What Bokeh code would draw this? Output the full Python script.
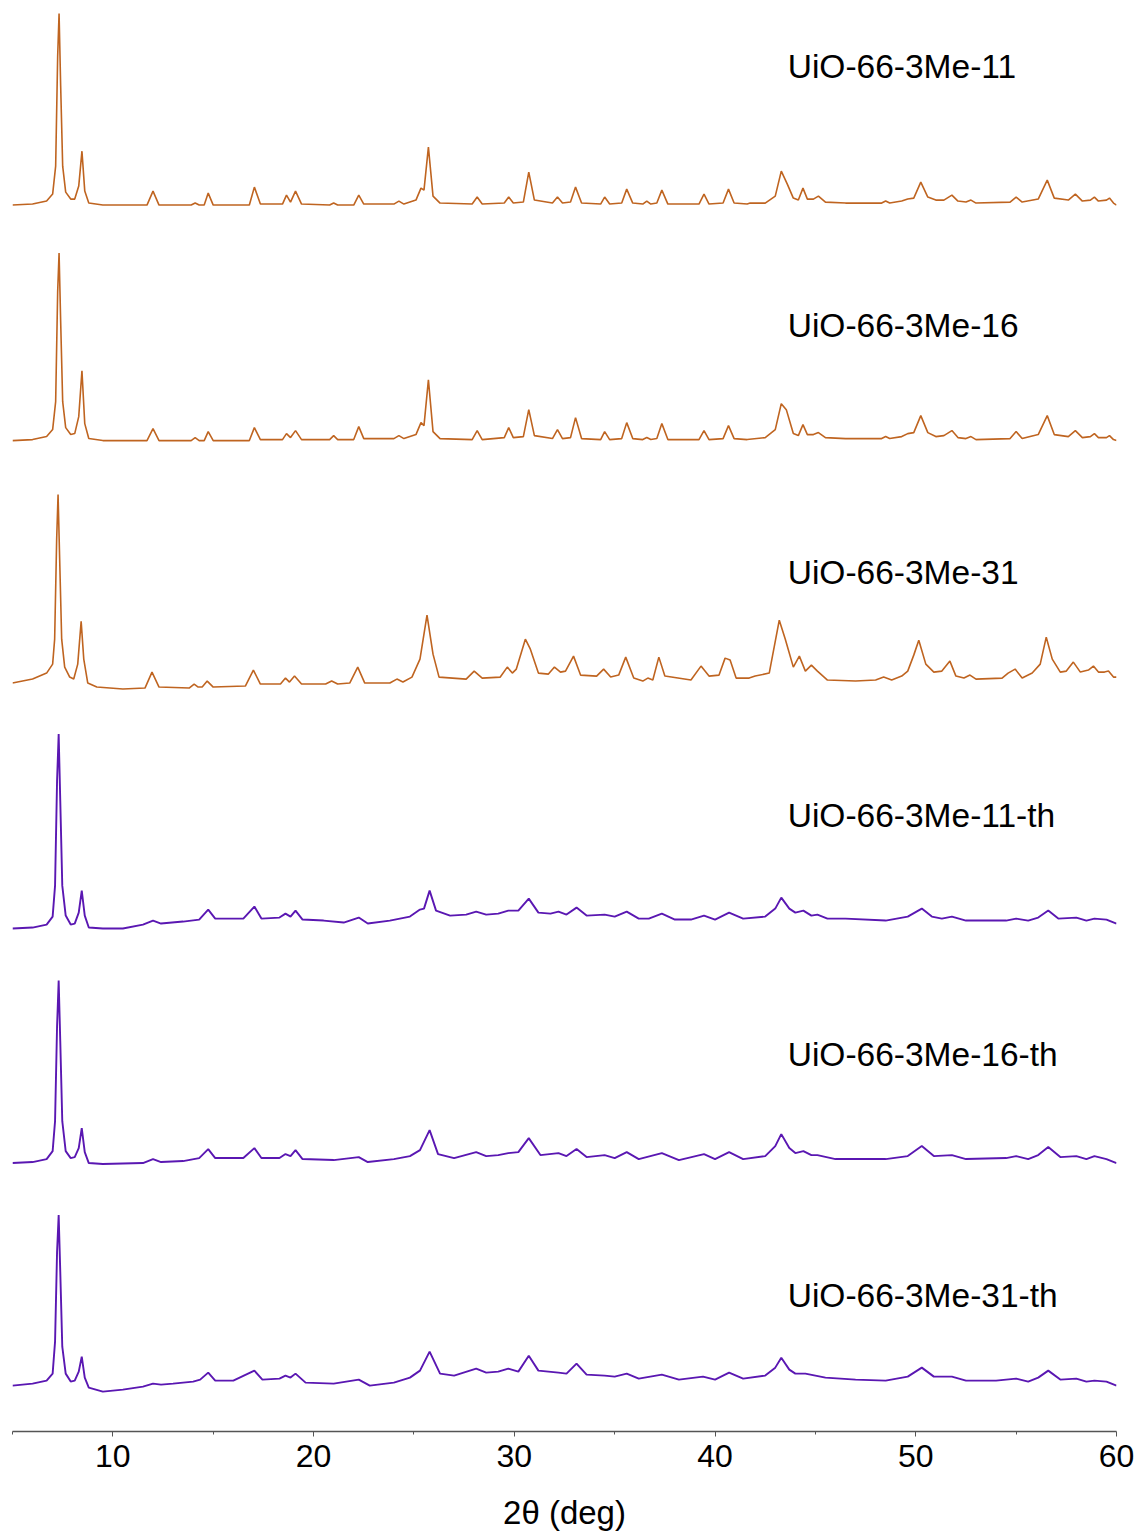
from bokeh.plotting import figure
from bokeh.models import Range1d, FixedTicker, Label
from bokeh.embed import file_html
from bokeh.resources import INLINE

# ---- data: 2theta (deg) and intensity (a.u.) ----
tt_11 = [5.0, 6.0, 6.7, 7.0, 7.15, 7.25, 7.32, 7.4, 7.5, 7.65, 7.9, 8.1, 8.3, 8.46, 8.6, 8.8, 9.5, 11.7, 12.0, 12.3,
         13.9, 14.1, 14.3, 14.55, 14.75, 15.0, 16.8, 17.05, 17.35, 18.45, 18.65, 18.85, 19.1, 19.4, 20.8, 21.0, 21.2,
         22.0, 22.25, 22.5, 24.0, 24.25, 24.5, 25.1, 25.35, 25.5, 25.72, 25.95, 26.3, 27.9, 28.15, 28.4, 29.5, 29.72,
         29.95, 30.45, 30.72, 31.0, 31.9, 32.15, 32.4, 32.8, 33.05, 33.35, 34.3, 34.5, 34.75, 35.35, 35.6, 35.9, 36.4,
         36.6, 36.8, 37.1, 37.35, 37.65, 39.2, 39.45, 39.7, 40.4, 40.67, 40.95, 41.6, 41.75, 42.5, 43.0, 43.3, 43.6,
         43.9, 44.15, 44.38, 44.6, 44.9, 45.15, 45.5, 46.5, 48.3, 48.5, 48.7, 49.3, 49.6, 49.9, 50.25, 50.6, 51.0,
         51.4, 51.8, 52.1, 52.5, 52.75, 53.0, 54.7, 55.0, 55.3, 56.1, 56.55, 56.9, 57.6, 57.95, 58.3, 58.7, 58.9,
         59.1, 59.5, 59.65, 59.85, 60.0]
int_11 = [1, 2, 5, 12, 40, 150, 193, 120, 40, 14, 7, 7, 20, 55, 15, 3, 1, 1, 15, 1,
          1, 3, 1, 1, 13, 1, 1, 19, 2, 2, 11, 4, 15, 2, 1, 3, 1,
          1, 11, 2, 2, 5, 2, 6, 18, 16, 59, 10, 3, 2, 9, 2, 3, 9,
          3, 4, 34, 6, 3, 9, 3, 4, 19, 3, 2, 9, 2, 3, 17, 3, 2,
          5, 2, 3, 16, 2, 2, 12, 2, 3, 17, 3, 2, 3, 3, 10, 35, 22,
          8, 6, 18, 7, 7, 10, 4, 3, 3, 5, 3, 5, 7, 8, 24, 9, 6,
          6, 11, 5, 4, 6, 3, 4, 9, 4, 7, 26, 8, 6, 12, 5, 6, 9,
          5, 6, 8, 3, 1]

tt_16 = [5.0, 6.0, 6.7, 7.0, 7.15, 7.25, 7.32, 7.4, 7.5, 7.65, 7.9, 8.1, 8.3, 8.46, 8.6, 8.8, 9.5, 11.7, 12.0, 12.3,
         13.9, 14.1, 14.3, 14.55, 14.75, 15.0, 16.8, 17.05, 17.35, 18.45, 18.65, 18.85, 19.1, 19.4, 20.8, 21.0, 21.2,
         22.0, 22.25, 22.5, 24.0, 24.25, 24.5, 25.1, 25.35, 25.5, 25.72, 25.95, 26.3, 27.9, 28.15, 28.4, 29.5, 29.72,
         29.95, 30.45, 30.72, 31.0, 31.9, 32.15, 32.4, 32.8, 33.05, 33.35, 34.3, 34.5, 34.75, 35.35, 35.6, 35.9, 36.4,
         36.6, 36.8, 37.1, 37.35, 37.65, 39.2, 39.45, 39.7, 40.4, 40.67, 40.95, 41.6, 42.5, 43.0, 43.3, 43.55,
         43.9, 44.15, 44.38, 44.6, 44.9, 45.15, 45.5, 46.5, 48.3, 48.5, 48.7, 49.3, 49.6, 49.9, 50.25, 50.6, 51.0,
         51.4, 51.8, 52.1, 52.5, 52.75, 53.0, 54.7, 55.0, 55.3, 56.1, 56.55, 56.9, 57.6, 57.95, 58.3, 58.7, 58.9,
         59.1, 59.5, 59.65, 59.85, 60.0]
int_16 = [1, 2, 5, 12, 40, 150, 189, 120, 40, 14, 7, 8, 25, 71, 18, 3, 1, 1, 13, 1,
          1, 4, 1, 1, 10, 1, 1, 14, 2, 2, 8, 4, 11, 2, 2, 6, 2,
          2, 15, 3, 3, 6, 3, 7, 19, 16, 62, 10, 3, 2, 11, 2, 4, 14,
          4, 5, 32, 6, 3, 12, 3, 4, 24, 3, 2, 10, 2, 3, 19, 3, 2,
          4, 2, 3, 18, 2, 2, 11, 2, 3, 16, 3, 2, 4, 12, 38, 32,
          8, 6, 17, 7, 7, 9, 4, 3, 3, 5, 3, 5, 8, 9, 26, 9, 5,
          6, 11, 4, 3, 5, 2, 3, 10, 3, 7, 26, 7, 5, 11, 4, 5, 8,
          4, 4, 6, 2, 1]

tt_31 = [5.0, 6.0, 6.7, 7.0, 7.1, 7.2, 7.27, 7.35, 7.45, 7.6, 7.85, 8.05, 8.25, 8.42, 8.55, 8.75, 9.2, 10.5, 11.6,
         11.95, 12.3, 13.8, 14.05, 14.25, 14.45, 14.7, 15.0, 16.6, 17.0, 17.35, 18.35, 18.6, 18.8, 19.05, 19.4, 20.6,
         20.9, 21.2, 21.8, 22.2, 22.55, 23.8, 24.15, 24.45, 24.9, 25.3, 25.65, 25.95, 26.25, 27.6, 28.0, 28.4, 29.3,
         29.65, 29.9, 30.1, 30.55, 30.8, 31.2, 31.7, 32.0, 32.3, 32.55, 32.95, 33.3, 34.1, 34.45, 34.8, 35.2, 35.55,
         35.95, 36.4, 36.65, 36.9, 37.2, 37.5, 38.8, 39.3, 39.7, 40.2, 40.5, 40.75, 41.05, 41.7, 42.0, 42.7, 43.2,
         43.5, 43.9, 44.2, 44.5, 44.8, 45.1, 45.6, 47.0, 48.0, 48.4, 48.8, 49.3, 49.6, 49.9, 50.15, 50.5, 50.9, 51.3,
         51.7, 52.0, 52.4, 52.7, 53.0, 54.3, 54.6, 54.95, 55.3, 55.8, 56.2, 56.5, 56.8, 57.2, 57.5, 57.85, 58.2, 58.6,
         58.85, 59.1, 59.4, 59.6, 59.85, 60.0]
int_31 = [6, 10, 16, 25, 50, 150, 195, 130, 50, 22, 12, 10, 25, 68, 30, 6, 2, 0, 1,
          17, 2, 1, 5, 2, 2, 8, 2, 3, 19, 5, 5, 11, 7, 13, 5, 5,
          8, 5, 6, 22, 6, 6, 10, 7, 12, 30, 74, 35, 12, 10, 18, 11, 12,
          22, 16, 20, 50, 40, 16, 15, 22, 17, 18, 33, 14, 13, 20, 12, 14, 32,
          11, 8, 11, 9, 32, 13, 9, 23, 13, 14, 31, 29, 11, 11, 13, 16, 69,
          50, 22, 33, 18, 24, 18, 9, 8, 9, 12, 9, 13, 18, 34, 49, 25, 17, 18,
          28, 13, 11, 14, 10, 11, 16, 20, 11, 16, 25, 52, 30, 17, 18, 27, 17, 19,
          23, 17, 17, 18, 12, 12]

tt_11th = [5.0, 6.0, 6.7, 7.0, 7.12, 7.22, 7.3, 7.38, 7.48, 7.65, 7.9, 8.1, 8.3, 8.45, 8.6, 8.8, 9.5, 10.5, 11.5,
           12.0, 12.4, 13.5, 14.3, 14.75, 15.1, 16.5, 17.05, 17.4, 18.3, 18.6, 18.85, 19.1, 19.45, 20.5, 21.5, 22.25,
           22.7, 23.8, 24.8, 25.3, 25.5, 25.78, 26.1, 26.8, 27.6, 28.1, 28.6, 29.2, 29.7, 30.2, 30.72, 31.2, 31.8,
           32.2, 32.6, 33.1, 33.6, 34.5, 35.0, 35.6, 36.2, 36.7, 37.35, 38.0, 38.8, 39.45, 40.0, 40.7, 41.4, 42.5,
           43.0, 43.3, 43.7, 44.0, 44.4, 44.8, 45.1, 45.6, 46.5, 48.5, 49.6, 50.3, 50.8, 51.3, 51.8, 52.5, 53.5,
           54.5, 55.0, 55.6, 56.1, 56.6, 57.1, 58.0, 58.5, 58.9, 59.5, 60.0]
int_11th = [2, 3, 6, 14, 45, 150, 197, 130, 45, 15, 6, 7, 18, 40, 15, 3, 2, 2, 6,
            10, 7, 9, 11, 21, 12, 12, 24, 12, 13, 17, 14, 20, 11, 10, 8, 13,
            7, 10, 14, 21, 22, 40, 20, 15, 16, 19, 16, 17, 20, 20, 32, 18, 17,
            19, 16, 23, 15, 16, 14, 19, 12, 12, 17, 11, 11, 15, 11, 18, 12, 14,
            22, 33, 22, 18, 20, 15, 16, 12, 12, 10, 14, 22, 14, 12, 14, 10, 10,
            10, 12, 10, 13, 20, 12, 13, 10, 12, 11, 7]

tt_16th = [5.0, 6.0, 6.7, 7.0, 7.12, 7.22, 7.3, 7.38, 7.48, 7.65, 7.9, 8.1, 8.3, 8.45, 8.6, 8.8, 9.5, 11.5, 12.0,
           12.4, 13.5, 14.3, 14.75, 15.1, 16.5, 17.05, 17.4, 18.3, 18.6, 18.85, 19.1, 19.45, 21.0, 22.25, 22.7, 24.0,
           24.8, 25.3, 25.78, 26.2, 27.0, 28.1, 28.6, 29.2, 29.7, 30.2, 30.72, 31.3, 32.2, 32.6, 33.1, 33.6, 34.5,
           35.0, 35.6, 36.2, 37.35, 38.2, 39.45, 40.0, 40.7, 41.4, 42.5, 43.0, 43.3, 43.7, 44.0, 44.4, 44.8, 45.1,
           46.0, 48.5, 49.6, 50.3, 50.9, 51.8, 52.5, 54.5, 55.0, 55.6, 56.1, 56.6, 57.2, 58.0, 58.5, 58.9, 59.5, 60.0]
int_16th = [3, 4, 7, 15, 45, 140, 186, 125, 45, 15, 8, 9, 18, 38, 14, 3, 2, 3, 7,
            4, 5, 8, 17, 8, 8, 18, 8, 8, 12, 10, 16, 7, 6, 9, 4, 7,
            10, 16, 36, 12, 8, 14, 10, 11, 13, 14, 28, 11, 13, 10, 17, 9, 11,
            8, 14, 7, 13, 6, 12, 7, 14, 7, 10, 20, 32, 18, 13, 15, 11, 11,
            7, 7, 10, 20, 10, 11, 7, 8, 10, 7, 11, 19, 9, 10, 7, 10, 7, 3]

tt_31th = [5.0, 6.0, 6.7, 7.0, 7.12, 7.22, 7.3, 7.38, 7.48, 7.65, 7.9, 8.1, 8.3, 8.45, 8.6, 8.8, 9.5, 10.5, 11.5,
           12.0, 12.4, 13.0, 14.0, 14.35, 14.75, 15.1, 16.0, 17.05, 17.45, 18.3, 18.6, 18.85, 19.1, 19.6, 21.0, 22.25,
           22.8, 24.0, 24.8, 25.3, 25.78, 26.3, 27.0, 28.1, 28.6, 29.2, 29.7, 30.2, 30.72, 31.2, 32.2, 32.6, 33.1,
           33.6, 34.5, 35.0, 35.6, 36.2, 37.35, 38.2, 39.4, 40.0, 40.7, 41.4, 42.5, 43.0, 43.3, 43.7, 44.0, 44.5,
           45.5, 47.0, 48.5, 49.6, 50.3, 50.9, 51.8, 52.5, 54.0, 55.0, 55.6, 56.1, 56.6, 57.2, 58.0, 58.5, 58.9,
           59.5, 60.0]
int_31th = [6, 8, 11, 18, 50, 140, 177, 120, 45, 18, 10, 11, 20, 35, 14, 4, 0, 2, 5,
            8, 7, 8, 10, 12, 19, 11, 11, 21, 12, 13, 16, 14, 18, 9, 8, 12,
            6, 9, 14, 21, 40, 18, 16, 23, 19, 20, 23, 20, 36, 21, 19, 18, 28,
            17, 16, 15, 18, 13, 17, 12, 15, 12, 19, 13, 16, 24, 34, 22, 18, 18,
            14, 12, 11, 15, 24, 15, 15, 11, 11, 13, 10, 14, 21, 12, 13, 10, 11,
            10, 6]

sample_names = ["UiO-66-3Me-11", "UiO-66-3Me-16", "UiO-66-3Me-31",
                "UiO-66-3Me-11-th", "UiO-66-3Me-16-th", "UiO-66-3Me-31-th"]
x_ticks = [10, 20, 30, 40, 50, 60]
x_minor_ticks = [5, 15, 25, 35, 45, 55]
x_title = "2θ (deg)"

# ---- layout / style (not data) ----
series = [(tt_11, int_11), (tt_16, int_16), (tt_31, int_31),
          (tt_11th, int_11th), (tt_16th, int_16th), (tt_31th, int_31th)]
offsets = [1228, 992, 744, 502, 266, 40]
label_y = [1368, 1108, 861, 617, 378, 136]
orange = "#BF6420"
purple = "#5A17B2"
colors = [orange, orange, orange, purple, purple, purple]
widths = [1.6, 1.6, 1.6, 1.9, 1.9, 1.9]

p = figure(width=1139, height=1533, output_backend="svg", toolbar_location=None,
           x_range=Range1d(5, 60), y_range=Range1d(0, 1434),
           min_border_left=12, min_border_right=23, min_border_top=0, min_border_bottom=99)
p.outline_line_color = None
p.grid.visible = False
p.yaxis.visible = False
p.background_fill_color = "white"
p.border_fill_color = "white"

for (xs, ys), off, col, lw, name, ly in zip(series, offsets, colors, widths, sample_names, label_y):
    p.line(xs, [v + off for v in ys], line_color=col, line_width=lw)
    p.add_layout(Label(x=43.62, y=ly, text=name, text_font="Liberation Sans",
                       text_font_size="33.5px", text_color="black", text_baseline="alphabetic"))

ax = p.xaxis[0]
ax.ticker = FixedTicker(ticks=x_ticks, minor_ticks=x_minor_ticks)
ax.axis_line_color = "#555555"
ax.axis_line_width = 1.5
ax.major_tick_line_color = "#555555"
ax.minor_tick_line_color = "#555555"
ax.major_tick_in = 0
ax.major_tick_out = 5
ax.minor_tick_in = 0
ax.minor_tick_out = 3
ax.major_label_text_font = "Liberation Sans"
ax.major_label_text_font_size = "32px"
ax.major_label_text_color = "black"
ax.major_label_standoff = 8
ax.axis_label = x_title
ax.axis_label_text_font = "Liberation Sans"
ax.axis_label_text_font_size = "33px"
ax.axis_label_text_font_style = "normal"
ax.axis_label_text_color = "black"
ax.axis_label_standoff = 24

open("out.html", "w").write(file_html(p, INLINE))
